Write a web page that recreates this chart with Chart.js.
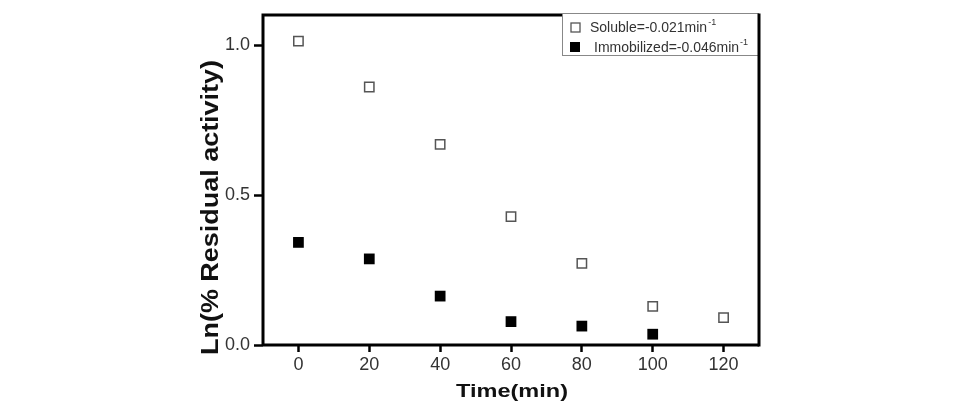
<!DOCTYPE html>
<html><head><meta charset="utf-8">
<script src="https://cdn.jsdelivr.net/npm/chart.js@4.4.1/dist/chart.umd.min.js"></script>
<style>html,body{margin:0;padding:0;background:#fff;}#wrap{width:961px;height:404px;}</style>
</head><body><div id="wrap"><canvas id="c" width="961" height="404"></canvas></div>
<script>
const timeSoluble = [0, 20, 40, 60, 80, 100, 120];
const lnSoluble = [1.013, 0.860, 0.669, 0.428, 0.272, 0.129, 0.091];
const timeImmobilized = [0, 20, 40, 60, 80, 100];
const lnImmobilized = [0.342, 0.287, 0.163, 0.078, 0.063, 0.036];
const xTicks = [0, 20, 40, 60, 80, 100, 120];
const yTicks = [0, 0.5, 1.0];
const seriesLabels = ['Soluble=-0.021min', 'Immobilized=-0.046min'];
const unitSuperscript = '-1';
const xTitle = 'Time(min)';
const yTitle = 'Ln(% Residual activity)';

const FONT = "'Liberation Sans', Arial, sans-serif";

const framePlugin = {
  id: 'frame',
  afterDraw(chart) {
    const {ctx, chartArea: a} = chart;
    ctx.save();
    ctx.strokeStyle = '#000';
    ctx.lineWidth = 3;
    ctx.beginPath();
    ctx.moveTo(a.left, a.bottom); ctx.lineTo(a.left, a.top); ctx.lineTo(a.right, a.top);
    ctx.moveTo(a.left, a.bottom); ctx.lineTo(a.right, a.bottom);
    ctx.stroke();

    // legend box
    const lx = a.right - 197, ly = a.top - 2, lw = 197, lh = 43;
    ctx.fillStyle = '#fff';
    ctx.fillRect(lx, ly, lw, lh);
    ctx.strokeStyle = '#888';
    ctx.lineWidth = 1;
    ctx.strokeRect(lx + 0.5, ly + 0.5, lw - 1, lh - 1);
    // markers
    ctx.strokeStyle = '#555';
    ctx.lineWidth = 1.3;
    ctx.strokeRect(lx + 9, ly + 10, 9, 9);
    ctx.fillStyle = '#000';
    ctx.fillRect(lx + 8, ly + 29, 10, 10);
    // texts
    ctx.fillStyle = '#333';
    ctx.textBaseline = 'alphabetic';
    ctx.textAlign = 'left';
    const rows = [{x: lx + 28, y: ly + 18.5}, {x: lx + 32, y: ly + 38.5}];
    rows.forEach((r, i) => {
      ctx.font = '14px ' + FONT;
      ctx.fillText(seriesLabels[i], r.x, r.y);
      const w = ctx.measureText(seriesLabels[i]).width;
      ctx.font = '9px ' + FONT;
      ctx.fillText(unitSuperscript, r.x + w + 1, r.y - 7);
    });

    // right frame line over the legend
    ctx.strokeStyle = '#000';
    ctx.lineWidth = 3;
    ctx.beginPath();
    ctx.moveTo(a.right, a.top - 1.5); ctx.lineTo(a.right, a.bottom + 1.5);
    ctx.stroke();

    // axis titles
    ctx.fillStyle = '#111';
    ctx.textAlign = 'center';
    ctx.textBaseline = 'alphabetic';
    ctx.save();
    ctx.font = 'bold 19px ' + FONT;
    let tw = ctx.measureText(xTitle).width;
    ctx.translate((a.left + a.right) / 2 + 1, 396.5);
    ctx.scale(112 / tw, 1);
    ctx.fillText(xTitle, 0, 0);
    ctx.restore();

    ctx.save();
    ctx.font = 'bold 24px ' + FONT;
    tw = ctx.measureText(yTitle).width;
    ctx.translate(218, 207.5);
    ctx.rotate(-Math.PI / 2);
    ctx.scale(295 / tw, 1);
    ctx.fillText(yTitle, 0, 0);
    ctx.restore();
    ctx.restore();
  }
};

new Chart(document.getElementById('c'), {
  type: 'scatter',
  data: {
    datasets: [
      {
        label: seriesLabels[0],
        data: timeSoluble.map((t, i) => ({x: t, y: lnSoluble[i]})),
        pointStyle: 'rect',
        pointRadius: 6.6,
        backgroundColor: '#fff',
        borderColor: '#555',
        borderWidth: 1.5
      },
      {
        label: seriesLabels[1],
        data: timeImmobilized.map((t, i) => ({x: t, y: lnImmobilized[i]})),
        pointStyle: 'rect',
        pointRadius: 7.6,
        backgroundColor: '#000',
        borderColor: '#000',
        borderWidth: 0
      }
    ]
  },
  options: {
    responsive: false,
    animation: false,
    devicePixelRatio: 1,
    layout: {padding: {left: 200, right: 202, top: 15, bottom: 0}},
    plugins: {legend: {display: false}, tooltip: {enabled: false}},
    scales: {
      x: {
        type: 'linear',
        min: -10, max: 130,
        afterBuildTicks: s => { s.ticks = xTicks.map(v => ({value: v})); },
        afterFit: s => { s.height = 59; s.paddingLeft = 0; s.paddingRight = 0; },
        border: {display: false},
        grid: {display: true, drawOnChartArea: false, drawTicks: true, tickLength: 7, tickWidth: 2.5, tickColor: '#000'},
        ticks: {font: {family: FONT, size: 18}, color: '#333', padding: 2, maxRotation: 0, autoSkip: false,
                callback: v => String(v)}
      },
      y: {
        type: 'linear',
        min: 0, max: 1.1,
        afterBuildTicks: s => { s.ticks = yTicks.map(v => ({value: v})); },
        afterFit: s => { s.width = 63; s.paddingTop = 0; s.paddingBottom = 0; },
        border: {display: false},
        grid: {display: true, drawOnChartArea: false, drawTicks: true, tickLength: 9, tickWidth: 2.5, tickColor: '#000'},
        ticks: {font: {family: FONT, size: 18}, color: '#333', padding: 4, autoSkip: false,
                callback: v => v.toFixed(1)}
      }
    }
  },
  plugins: [framePlugin]
});
</script>
</body></html>
